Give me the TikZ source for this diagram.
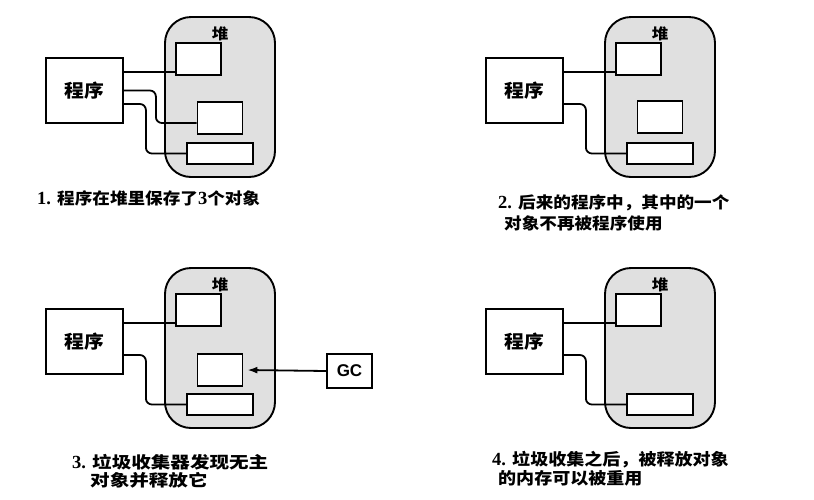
\documentclass[tikz,border=0pt]{standalone}
\usepackage{fontspec}
\newfontfamily\cjk{Noto Sans CJK SC}
\newfontfamily\cjkcap{Noto Sans CJK SC}[FakeStretch=1.1]
\newfontfamily\cjkwide{Noto Sans CJK SC}[FakeStretch=1.2]
\newfontfamily\lat{Liberation Serif}
\newfontfamily\gcfont{Liberation Sans}
\newcommand\num[1]{{\lat\bfseries\fontsize{18.5}{18.5}\selectfont #1}}
\usetikzlibrary{arrows.meta,calc}
\tikzset{
  heap/.style={draw, line width=1.9pt, fill=black!12, rounded corners=26pt,
    minimum width=110pt, minimum height=160pt, inner sep=0pt},
  box/.style={draw, line width=1.8pt, fill=white, inner sep=0pt},
  prog/.style={box, minimum width=77pt, minimum height=65pt,
    font=\cjkcap\bfseries\fontsize{18}{18}\selectfont},
  obja/.style={box, minimum width=45pt, minimum height=32pt},
  objc/.style={box, minimum width=66pt, minimum height=21pt},
  wire/.style={line width=1.8pt, rounded corners=6pt},
  heaplabel/.style={font=\cjkcap\bfseries\fontsize{15}{15}\selectfont, inner sep=0pt},
  caption/.style={anchor=west, inner sep=0pt, font=\cjkcap\bfseries\fontsize{16}{16}\selectfont},
  gcbox/.style={box, minimum width=45pt, minimum height=34pt,
    font=\gcfont\bfseries\fontsize{17}{17}\selectfont},
}
\newcommand\heappanel[3]{%
  \begin{scope}[shift={(#2,#3)}]
    \node[heap] (h#1) at (220,97) {};
    \node[heaplabel] (hl#1) at (220,34) {堆};
    \node[prog] (p#1) at (84.5,90.5) {程序};
    \node[obja] (oa#1) at (198.5,59) {};
    \node[objc] (oc#1) at (220,153.5) {};
    \coordinate (ca#1) at ($(oa#1.south west)+(0,-4)$);
    \draw[wire] (p#1.east |- ca#1) -- (ca#1);
    \draw[wire] ($(p#1.east)+(0,13.5)$) -- ++(22,0) |- (oc#1.west);
  \end{scope}}
\begin{document}
\begin{tikzpicture}[x=1pt,y=-1pt]
  \useasboundingbox (0,0) rectangle (814,499);
  % panel 1
  \heappanel{1}{0}{0}
  \node[obja] (ob1) at (220,118) {};
  \draw[wire] (p1.east) -- ++(32,0) |- ($(ob1.west)+(0,5)$);
  % panel 2
  \heappanel{2}{440}{0}
  \node[obja] (ob2) at (660,117) {};
  % panel 3
  \heappanel{3}{0}{251}
  \node[obja] (ob3) at (220,370) {};
  \node[gcbox] (gc) at (349.5,371) {GC};
  \draw[line width=1.8pt, -{Latex[length=10pt,width=7pt]}] (gc.west) -- ($(ob3.east)+(4,0)$);
  % panel 4
  \heappanel{4}{440}{251}
  % captions
  \node[caption] (t1) at (37,198) {\num{1. }程序在堆里保存了\num{3}个对象};
  \node[caption] (t2a) at (498,203) {\num{2. }后来的程序中，其中的一个};
  \node[caption] (t2b) at (504,223) {对象不再被程序使用};
  \node[caption, font=\cjkwide\bfseries\fontsize{16.3}{16.3}\selectfont] (t3a) at (72,462) {\num{3. }垃圾收集器发现无主};
  \node[caption, font=\cjkwide\bfseries\fontsize{16.3}{16.3}\selectfont] (t3b) at (90,480) {对象并释放它};
  \node[caption, font=\cjkcap\bfseries\fontsize{16.4}{16.4}\selectfont] (t4a) at (492,460) {\num{4. }垃圾收集之后，被释放对象};
  \node[caption, font=\cjkcap\bfseries\fontsize{16.4}{16.4}\selectfont] (t4b) at (498,478) {的内存可以被重用};
\end{tikzpicture}
\end{document}
